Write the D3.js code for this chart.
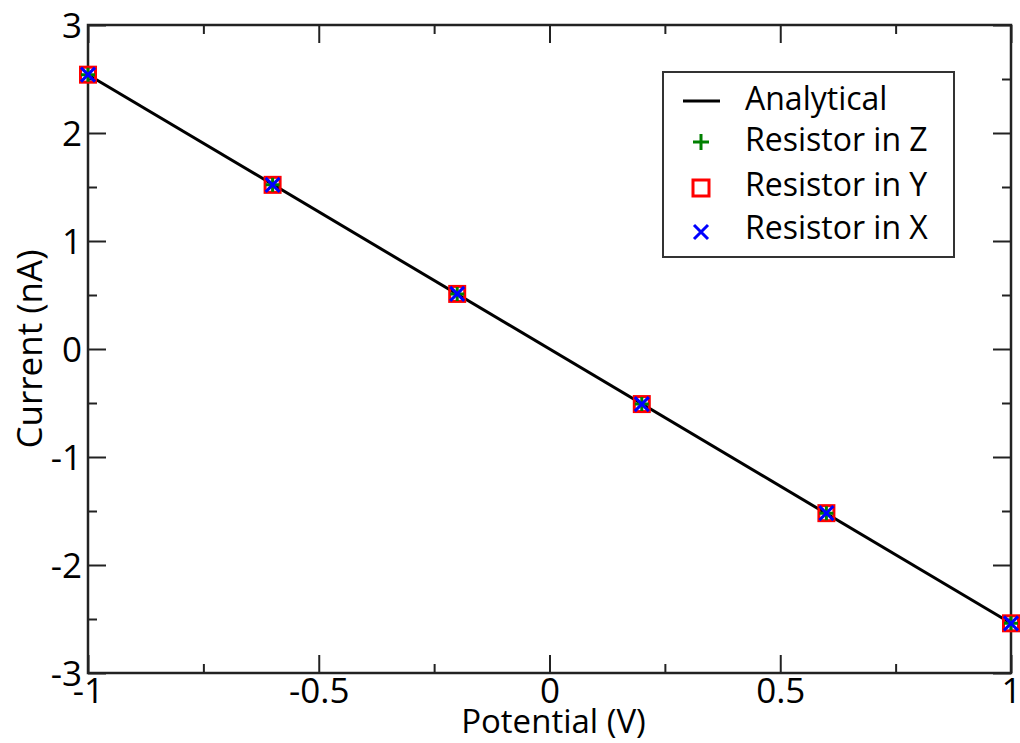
<!DOCTYPE html>
<html><head><meta charset="utf-8">
<script src="https://cdn.jsdelivr.net/npm/d3@7"></script>
<style>body{margin:0;background:#fff}</style>
</head><body>
<svg id="c" width="1020" height="743"></svg>
<script>
const potential = [-1, -0.6, -0.2, 0.2, 0.6, 1];
const resistorZ = [2.54, 1.52, 0.51, -0.51, -1.52, -2.54];
const resistorY = [2.54, 1.52, 0.51, -0.51, -1.52, -2.54];
const resistorX = [2.54, 1.52, 0.51, -0.51, -1.52, -2.54];
const analyticalX = [-1, 1];
const analyticalY = [2.54, -2.54];
const xTicks = [-1, -0.5, 0, 0.5, 1];
const yTicks = [-3, -2, -1, 0, 1, 2, 3];
const xMinor = [-0.75, -0.25, 0.25, 0.75];
const yMinor = [-2.5, -1.5, -0.5, 0.5, 1.5, 2.5];
const legendLabels = ["Analytical", "Resistor in Z", "Resistor in Y", "Resistor in X"];

const svg = d3.select("#c");
const L = 88, R = 1011, T = 25, B = 673;
const x = d3.scaleLinear().domain([-1, 1]).range([L, R]);
const y = d3.scaleLinear().domain([-3, 3]).range([B, T]);
const font = "'Open Sans', sans-serif";
const axisCol = "#222";
const fmt = d => String(d);

function styleAxis(g){ g.select(".domain").remove(); g.selectAll("line").attr("stroke", axisCol).attr("stroke-width", 2); }
svg.append("g").attr("transform", `translate(0,${B})`).call(d3.axisBottom(x).tickValues(xTicks).tickSizeInner(-18).tickSizeOuter(0).tickFormat(fmt))
  .call(styleAxis).call(g => g.selectAll("text").attr("font-family", font).attr("font-size", 35).attr("fill", "#000").attr("dy", "0.72em").attr("y", 5));
svg.append("g").attr("transform", `translate(0,${B})`).call(d3.axisBottom(x).tickValues(xMinor).tickSizeInner(-9).tickSizeOuter(0).tickFormat(""))
  .call(styleAxis);
svg.append("g").attr("transform", `translate(0,${T})`).call(d3.axisTop(x).tickValues(xTicks).tickSizeInner(-18).tickSizeOuter(0).tickFormat(""))
  .call(styleAxis);
svg.append("g").attr("transform", `translate(0,${T})`).call(d3.axisTop(x).tickValues(xMinor).tickSizeInner(-9).tickSizeOuter(0).tickFormat(""))
  .call(styleAxis);
svg.append("g").attr("transform", `translate(${L},0)`).call(d3.axisLeft(y).tickValues(yTicks).tickSizeInner(-18).tickSizeOuter(0).tickFormat(fmt))
  .call(styleAxis).call(g => g.selectAll("text").attr("font-family", font).attr("font-size", 35).attr("fill", "#000").attr("x", -6).attr("dy", "0.36em"));
svg.append("g").attr("transform", `translate(${L},0)`).call(d3.axisLeft(y).tickValues(yMinor).tickSizeInner(-9).tickSizeOuter(0).tickFormat(""))
  .call(styleAxis);
svg.append("g").attr("transform", `translate(${R},0)`).call(d3.axisRight(y).tickValues(yTicks).tickSizeInner(-18).tickSizeOuter(0).tickFormat(""))
  .call(styleAxis);
svg.append("g").attr("transform", `translate(${R},0)`).call(d3.axisRight(y).tickValues(yMinor).tickSizeInner(-9).tickSizeOuter(0).tickFormat(""))
  .call(styleAxis);

svg.append("rect").attr("x", L).attr("y", T).attr("width", R - L).attr("height", B - T)
  .attr("fill", "none").attr("stroke", axisCol).attr("stroke-width", 2.5);

const line = d3.line().x(d => x(d[0])).y(d => y(d[1]));
svg.append("path").datum(d3.zip(analyticalX, analyticalY)).attr("d", line)
  .attr("fill", "none").attr("stroke", "#000").attr("stroke-width", 3);

const sq = 15, pl = 7, xs = 7;
const ptsY = d3.zip(potential, resistorY);
svg.append("g").selectAll("rect").data(ptsY).join("rect")
  .attr("x", d => x(d[0]) - sq/2).attr("y", d => y(d[1]) - sq/2).attr("width", sq).attr("height", sq)
  .attr("fill", "none").attr("stroke", "#f00").attr("stroke-width", 3);
const ptsZ = d3.zip(potential, resistorZ);
svg.append("g").selectAll("path").data(ptsZ).join("path")
  .attr("d", d => { const cx = x(d[0]), cy = y(d[1]); return `M${cx-pl},${cy}H${cx+pl}M${cx},${cy-pl}V${cy+pl}`; })
  .attr("stroke", "#008000").attr("stroke-width", 3).attr("fill", "none");
const ptsX = d3.zip(potential, resistorX);
svg.append("g").selectAll("path").data(ptsX).join("path")
  .attr("d", d => { const cx = x(d[0]), cy = y(d[1]); return `M${cx-xs},${cy-xs}L${cx+xs},${cy+xs}M${cx-xs},${cy+xs}L${cx+xs},${cy-xs}`; })
  .attr("stroke", "#00f").attr("stroke-width", 3).attr("fill", "none");

svg.append("text").attr("x", x(0) + 4).attr("y", 733).attr("text-anchor", "middle")
  .attr("font-family", font).attr("font-size", 33).text("Potential (V)");
svg.append("text").attr("transform", `translate(42,${y(0)}) rotate(-90)`).attr("text-anchor", "middle")
  .attr("font-family", font).attr("font-size", 35).text("Current (nA)");

const lg = svg.append("g");
lg.append("rect").attr("x", 663).attr("y", 72).attr("width", 291).attr("height", 185)
  .attr("fill", "#fff").attr("stroke", "#333").attr("stroke-width", 2);
const rows = [101, 142, 188, 232];
const base = [110, 151, 196, 239];
const tx = 745, mx = 701;
lg.append("line").attr("x1", 683).attr("x2", 720).attr("y1", rows[0]).attr("y2", rows[0]).attr("stroke", "#000").attr("stroke-width", 3);
lg.append("path").attr("d", `M${mx-8},${rows[1]}H${mx+8}M${mx},${rows[1]-8}V${rows[1]+8}`).attr("stroke", "#008000").attr("stroke-width", 3);
lg.append("rect").attr("x", mx - 8).attr("y", rows[2] - 8).attr("width", 16).attr("height", 16).attr("fill", "none").attr("stroke", "#f00").attr("stroke-width", 3);
lg.append("path").attr("d", `M${mx-7},${rows[3]-7}L${mx+7},${rows[3]+7}M${mx-7},${rows[3]+7}L${mx+7},${rows[3]-7}`).attr("stroke", "#00f").attr("stroke-width", 3);
lg.selectAll("text.l").data(legendLabels).join("text").attr("class", "l")
  .attr("x", tx).attr("y", (d, i) => base[i])
  .attr("font-family", font).attr("font-size", 32).text(d => d);
</script>
</body></html>
